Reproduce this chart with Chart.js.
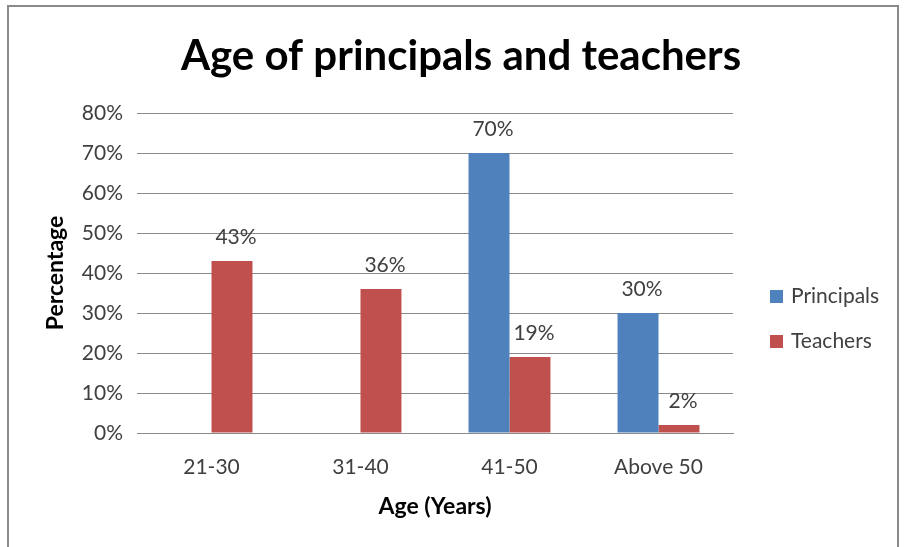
<!DOCTYPE html>
<html>
<head>
<meta charset="utf-8">
<script src="https://cdn.jsdelivr.net/npm/chart.js@4/dist/chart.umd.min.js"></script>
<style>
  html, body { margin: 0; padding: 0; background: #fff; }
  #wrap { position: relative; width: 904px; height: 547px; overflow: hidden; }
  #frame { position: absolute; left: 7px; top: 5px; width: 888px; height: 600px;
           border: 2px solid #8a8a8a; pointer-events: none; }
</style>
</head>
<body>
<div id="wrap">
  <canvas id="chart" width="904" height="547"></canvas>
  <div id="frame"></div>
</div>
<script>
// --- DATA ---
const categories = ['21-30', '31-40', '41-50', 'Above 50'];
const principals = [0, 0, 70, 30];
const teachers = [43, 36, 19, 2];
const seriesNames = ['Principals', 'Teachers'];
const seriesColors = ['#4F81BD', '#C0504D'];
const yTicks = { min: 0, max: 80, step: 10 };
const chartTitle = 'Age of principals and teachers';

const FONT = 'Lato, "Open Sans", sans-serif';
const TEXT = '#404040';

// title centred over the whole frame (Excel style), not just the plot
const frameTitle = {
    id: 'frameTitle',
    afterDraw(chart) {
        const ctx = chart.ctx;
        ctx.save();
        ctx.font = `bold 42px ${FONT}`;
        ctx.fillStyle = '#000';
        ctx.textAlign = 'center';
        ctx.textBaseline = 'alphabetic';
        ctx.fillText(chartTitle, 461, 70);
        ctx.restore();
    }
};

// value labels above each non-zero bar
const valueLabels = {
    id: 'valueLabels',
    afterDatasetsDraw(chart) {
        const ctx = chart.ctx;
        ctx.save();
        ctx.font = `21px ${FONT}`;
        ctx.fillStyle = TEXT;
        ctx.textAlign = 'center';
        ctx.textBaseline = 'middle';
        chart.data.datasets.forEach((ds, di) => {
            chart.getDatasetMeta(di).data.forEach((bar, i) => {
                if (!ds.data[i]) return;
                ctx.fillText(ds.data[i] + '%', bar.x + 4, bar.y - 24);
            });
        });
        ctx.restore();
    }
};

// legend on the right
const sideLegend = {
    id: 'sideLegend',
    afterDraw(chart) {
        const ctx = chart.ctx;
        ctx.save();
        ctx.font = `21px ${FONT}`;
        ctx.textBaseline = 'middle';
        chart.data.datasets.forEach((ds, i) => {
            const y = 296 + i * 45;
            ctx.fillStyle = ds.backgroundColor;
            ctx.fillRect(770, y - 6, 13, 13);
            ctx.fillStyle = TEXT;
            ctx.fillText(ds.label, 791, y);
        });
        ctx.restore();
    }
};

new Chart(document.getElementById('chart'), {
    type: 'bar',
    data: {
        labels: categories,
        datasets: [
            { label: seriesNames[0], data: principals, backgroundColor: seriesColors[0] },
            { label: seriesNames[1], data: teachers, backgroundColor: seriesColors[1] }
        ]
    },
    options: {
        responsive: false,
        animation: false,
        layout: { padding: { top: 113, left: 0, right: 171, bottom: 0 } },
        datasets: { bar: { categoryPercentage: 0.55, barPercentage: 1.0 } },
        plugins: {
            legend: { display: false },
            tooltip: { enabled: false },
            title: { display: false }
        },
        scales: {
            x: {
                afterFit: (s) => { s.height = 114; },
                grid: { display: false, drawTicks: false },
                border: { display: true, color: '#8a8a8a', width: 1 },
                ticks: { color: TEXT, font: { family: FONT, size: 21 }, padding: 22 },
                title: {
                    display: true, text: 'Age (Years)', color: '#000',
                    font: { family: FONT, size: 23, weight: 'bold', lineHeight: 1.2 },
                    padding: { top: 0, bottom: 27 }
                }
            },
            y: {
                min: yTicks.min, max: yTicks.max,
                afterFit: (s) => { s.width = 137; },
                grid: { color: '#8a8a8a', drawTicks: false },
                border: { display: false },
                ticks: {
                    stepSize: yTicks.step, color: TEXT, padding: 14,
                    font: { family: FONT, size: 21 },
                    callback: (v) => v + '%'
                },
                title: {
                    display: true, text: 'Percentage', color: '#000',
                    font: { family: FONT, size: 23, weight: 'bold', lineHeight: 1.2 },
                    padding: { top: 42, bottom: 0 }
                }
            }
        }
    },
    plugins: [valueLabels, sideLegend, frameTitle]
});
</script>
</body>
</html>
